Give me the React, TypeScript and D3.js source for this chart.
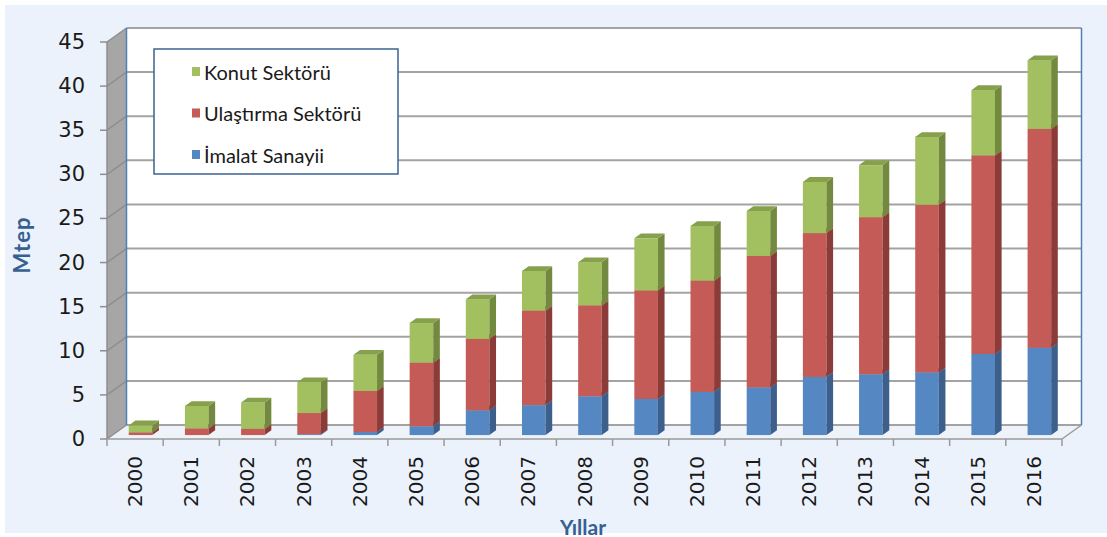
import { useEffect, useRef } from "react"
import * as d3 from "d3"

const years = ["2000", "2001", "2002", "2003", "2004", "2005", "2006", "2007", "2008", "2009", "2010", "2011", "2012", "2013", "2014", "2015", "2016"]
const imalat = [0.0, 0.0, 0.0, 0.1, 0.35, 1.0, 2.8, 3.4, 4.4, 4.1, 4.9, 5.4, 6.6, 6.9, 7.1, 9.2, 9.9]
const ulastirma = [0.3, 0.75, 0.7, 2.4, 4.65, 7.2, 8.1, 10.7, 10.3, 12.3, 12.6, 14.9, 16.3, 17.8, 19.0, 22.5, 24.8]
const konut = [0.8, 2.55, 3.0, 3.5, 4.1, 4.5, 4.5, 4.5, 4.9, 5.9, 6.2, 5.1, 5.8, 5.9, 7.7, 7.4, 7.8]
const yTicks = [0, 5, 10, 15, 20, 25, 30, 35, 40, 45]
const seriesNames = ["İmalat Sanayii", "Ulaştırma Sektörü", "Konut Sektörü"]

const palette = [
  { front: "#5588c2", side: "#3c5f8b", top: "#4a76a8" },
  { front: "#c55b56", side: "#8b3c39", top: "#a94a45" },
  { front: "#a2c05f", side: "#72893f", top: "#86a04c" },
]

export default function App() {
  const svgRef = useRef<SVGSVGElement>(null)

  useEffect(() => {
    if (!svgRef.current) return
    const root = d3.select(svgRef.current)
    root.selectAll("*").remove()

    const W = 1107
    const H = 537
    // oblique depth offset of the 3D box
    const dx = 19.5
    const dy = -14
    const left = 107
    const right = 1062

    const x = d3.scaleBand<string>().domain(years).range([left, right]).padding(0)
    const y = d3.scaleLinear().domain([0, 45]).range([439, 42])

    root.attr("width", W).attr("height", H)

    // chart area background
    root.append("rect").attr("x", 0).attr("y", 0).attr("width", W).attr("height", H).attr("fill", "#ffffff")
    root.append("rect").attr("x", 5).attr("y", 5).attr("width", W - 5).attr("height", 528).attr("fill", "#ebf2fc")

    const g = root.append("g")

    // back wall
    g.append("rect")
      .attr("x", left + dx)
      .attr("y", y(45) + dy)
      .attr("width", right - left)
      .attr("height", y(0) - y(45))
      .attr("fill", "#ffffff")

    // side wall
    g.append("path")
      .attr("d", `M${left},${y(45)}L${left + dx},${y(45) + dy}L${left + dx},${y(0) + dy}L${left},${y(0)}Z`)
      .attr("fill", "#a6a6a6")

    // floor
    g.append("path")
      .attr("d", `M${left},${y(0)}L${left + dx},${y(0) + dy}L${right + dx},${y(0) + dy}L${right},${y(0)}Z`)
      .attr("fill", "#eef3fa")

    // gridlines on back wall and side wall
    yTicks.forEach((t) => {
      const yb = y(t) + dy
      g.append("line")
        .attr("x1", left + dx)
        .attr("x2", right + dx)
        .attr("y1", yb)
        .attr("y2", yb)
        .attr("stroke", "#a3a3a3")
        .attr("stroke-width", 2)
      g.append("line")
        .attr("x1", left)
        .attr("y1", y(t))
        .attr("x2", left + dx)
        .attr("y2", yb)
        .attr("stroke", "#8e8e8e")
        .attr("stroke-width", 1.5)
    })

    // back wall vertical edges
    g.append("line")
      .attr("x1", left + dx).attr("x2", left + dx)
      .attr("y1", y(45) + dy).attr("y2", y(0) + dy)
      .attr("stroke", "#4f7fb8").attr("stroke-width", 1.5)
    g.append("line")
      .attr("x1", right + dx).attr("x2", right + dx)
      .attr("y1", y(45) + dy).attr("y2", y(0) + dy)
      .attr("stroke", "#4f7fb8").attr("stroke-width", 1.5)

    // front axis lines
    g.append("line")
      .attr("x1", left).attr("x2", left)
      .attr("y1", y(45)).attr("y2", y(0))
      .attr("stroke", "#8e8e8e").attr("stroke-width", 1.5)
    g.append("line")
      .attr("x1", left).attr("x2", right)
      .attr("y1", y(0)).attr("y2", y(0))
      .attr("stroke", "#9a9a9a").attr("stroke-width", 1.5)
    g.append("line")
      .attr("x1", right).attr("y1", y(0))
      .attr("x2", right + dx).attr("y2", y(0) + dy)
      .attr("stroke", "#9a9a9a").attr("stroke-width", 1.5)

    // stacked 3D columns
    const table = years.map((yr, i) => ({ year: yr, s0: imalat[i], s1: ulastirma[i], s2: konut[i] }))
    const stacked = d3.stack<any>().keys(["s0", "s1", "s2"])(table)

    const f0 = 0.28
    const f1 = 0.62
    const barW = x.bandwidth() * 0.42
    const ox = dx * f0
    const oy = dy * f0
    const sx = dx * (f1 - f0)
    const sy = dy * (f1 - f0)

    years.forEach((yr, i) => {
      const x0 = (x(yr) as number) + x.bandwidth() / 2 - barW / 2 + ox
      const x1 = x0 + barW
      stacked.forEach((layer, k) => {
        const [v0, v1] = layer[i]
        if (v1 - v0 <= 0) return
        const yb = y(v0) + oy
        const yt = y(v1) + oy
        const c = palette[k]
        g.append("rect")
          .attr("x", x0)
          .attr("y", yt)
          .attr("width", barW)
          .attr("height", yb - yt)
          .attr("fill", c.front)
        g.append("path")
          .attr("d", `M${x1},${yt}L${x1 + sx},${yt + sy}L${x1 + sx},${yb + sy}L${x1},${yb}Z`)
          .attr("fill", c.side)
        g.append("path")
          .attr("d", `M${x0},${yt}L${x0 + sx},${yt + sy}L${x1 + sx},${yt + sy}L${x1},${yt}Z`)
          .attr("fill", c.top)
      })
    })

    // y ticks and labels
    yTicks.forEach((t) => {
      g.append("line")
        .attr("x1", left - 7).attr("x2", left)
        .attr("y1", y(t)).attr("y2", y(t))
        .attr("stroke", "#8e8e8e").attr("stroke-width", 1.5)
      g.append("text")
        .attr("x", 85)
        .attr("y", y(t))
        .attr("text-anchor", "end")
        .attr("dominant-baseline", "central")
        .attr("font-family", "DejaVu Sans")
        .attr("font-size", 21)
        .attr("fill", "#1a1a1a")
        .text(t)
    })

    // x ticks and labels
    d3.range(years.length + 1).forEach((k) => {
      const xx = left + k * x.step()
      g.append("line")
        .attr("x1", xx).attr("x2", xx)
        .attr("y1", y(0)).attr("y2", y(0) + 7)
        .attr("stroke", "#9a9a9a").attr("stroke-width", 1.5)
    })
    years.forEach((yr) => {
      const cx = (x(yr) as number) + x.bandwidth() / 2
      g.append("text")
        .attr("transform", `translate(${cx},456) rotate(-90)`)
        .attr("text-anchor", "end")
        .attr("dominant-baseline", "central")
        .attr("font-family", "DejaVu Sans")
        .attr("font-size", 20)
        .attr("fill", "#1a1a1a")
        .text(yr)
    })

    // axis titles
    g.append("text")
      .attr("transform", "translate(21,245) rotate(-90)")
      .attr("text-anchor", "middle")
      .attr("dominant-baseline", "central")
      .attr("font-family", "Lato")
      .attr("font-weight", "bold")
      .attr("font-size", 22)
      .attr("letter-spacing", 1)
      .attr("fill", "#376092")
      .text("Mtep")
    g.append("text")
      .attr("x", 583)
      .attr("y", 526)
      .attr("text-anchor", "middle")
      .attr("dominant-baseline", "central")
      .attr("font-family", "Lato")
      .attr("font-weight", "bold")
      .attr("font-size", 21)
      .attr("fill", "#376092")
      .text("Yıllar")

    // legend
    const lg = g.append("g")
    lg.append("rect")
      .attr("x", 154).attr("y", 49)
      .attr("width", 244).attr("height", 125)
      .attr("fill", "#ffffff")
      .attr("stroke", "#3a6393").attr("stroke-width", 1.5)
    const rows = [2, 1, 0]
    rows.forEach((k, j) => {
      const cy = 71.5 + j * 41.5
      lg.append("rect")
        .attr("x", 192).attr("y", cy - 4.5)
        .attr("width", 8).attr("height", 9)
        .attr("fill", palette[k].front)
      lg.append("text")
        .attr("x", 204)
        .attr("y", cy)
        .attr("dominant-baseline", "central")
        .attr("font-family", "Lato")
        .attr("font-size", 20)
        .attr("fill", "#1a1a1a")
        .text(seriesNames[k])
    })
  }, [])

  return (
    <div style={{ position: "absolute", left: 0, top: 0 }}>
      <svg ref={svgRef}></svg>
    </div>
  )
}
